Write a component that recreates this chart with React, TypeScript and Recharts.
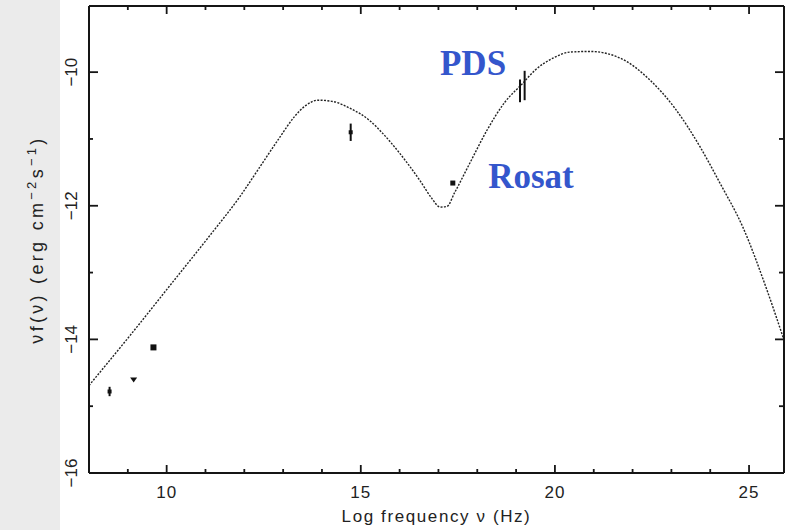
import React from 'react';
import { ComposedChart, Line, Scatter, XAxis, YAxis, ErrorBar, ReferenceDot } from 'recharts';

// Model SED curve: log frequency (Hz) vs log nuF(nu)
const curveLogNu = [8.0, 9.06, 10.09, 11.12, 11.89, 12.40, 12.92, 13.30, 13.56, 13.90, 14.29, 14.72, 15.24, 15.57, 16.01, 16.52, 16.83, 17.04, 17.22, 17.42, 17.81, 18.25, 18.71, 19.15, 19.49, 19.95, 20.39, 20.91, 21.68, 22.45, 23.09, 23.74, 24.25, 24.84, 25.46, 25.90];
const curveLogFlux = [-14.69, -13.94, -13.19, -12.44, -11.86, -11.42, -10.97, -10.66, -10.51, -10.42, -10.44, -10.54, -10.73, -10.92, -11.22, -11.62, -11.89, -12.02, -12.01, -11.80, -11.36, -10.87, -10.45, -10.18, -9.97, -9.79, -9.70, -9.69, -9.79, -10.12, -10.54, -11.12, -11.66, -12.32, -13.26, -14.01];

// Observed points
const radioA = [{ x: 8.53, y: -14.78, err: 0.07 }];
const radioB = [{ x: 9.15, y: -14.6 }];
const radioC = [{ x: 9.66, y: -14.12 }];
const optical = [{ x: 14.74, y: -10.9, err: 0.13 }];
const rosat = [{ x: 17.37, y: -11.66 }];
const pds = [
  { x: 19.1, y: -10.28, err: 0.17 },
  { x: 19.22, y: -10.2, err: 0.22 },
];

const X_TICKS = [9, 10, 11, 12, 13, 14, 15, 16, 17, 18, 19, 20, 21, 22, 23, 24, 25];
const X_MAJOR = [10, 15, 20, 25];
const Y_TICKS = [-16, -15, -14, -13, -12, -11, -10];
const Y_MAJOR = [-16, -14, -12, -10];
const X_DOMAIN = [8, 25.9];
const Y_DOMAIN = [-16, -9.01];

const curve = curveLogNu.map((x, i) => ({ x, y: curveLogFlux[i] }));

const AX = '#151515';
const FONT = "'Liberation Sans', Arial, sans-serif";
const fmt = (v: number) => (v < 0 ? '\u2212' + Math.abs(v) : String(v));

const BottomTick = (p: any) => {
  const v = p.payload.value;
  const major = X_MAJOR.includes(v);
  return (
    <g>
      <line x1={p.x} x2={p.x} y1={p.y} y2={p.y - (major ? 8 : 4)} stroke={AX} strokeWidth={1.8} />
      {major && (
        <text x={p.x} y={p.y + 25} textAnchor="middle" fontFamily={FONT} fontSize={17} letterSpacing={1} fill="#222">
          {v}
        </text>
      )}
    </g>
  );
};
const TopTick = (p: any) => {
  const major = X_MAJOR.includes(p.payload.value);
  return <line x1={p.x} x2={p.x} y1={p.y} y2={p.y + (major ? 8 : 4)} stroke={AX} strokeWidth={1.8} />;
};
const LeftTick = (p: any) => {
  const v = p.payload.value;
  const major = Y_MAJOR.includes(v);
  const tx = p.x - 12;
  return (
    <g>
      <line x1={p.x} x2={p.x + (major ? 9 : 4)} y1={p.y} y2={p.y} stroke={AX} strokeWidth={1.8} />
      {major && (
        <text x={tx} y={p.y} transform={`rotate(-90, ${tx}, ${p.y})`} textAnchor="middle" fontFamily={FONT} fontSize={17} fill="#222">
          {fmt(v)}
        </text>
      )}
    </g>
  );
};
const RightTick = (p: any) => {
  const major = Y_MAJOR.includes(p.payload.value);
  return <line x1={p.x} x2={p.x - (major ? 9 : 5)} y1={p.y} y2={p.y} stroke={AX} strokeWidth={1.8} />;
};

const XTitle = (props: any) => {
  const vb = props.viewBox;
  return (
    <text x={vb.x + vb.width / 2} y={vb.y + 49} textAnchor="middle" fontFamily={FONT} fontSize={17} letterSpacing={1.6} fill="#222">
      Log frequency ν (Hz)
    </text>
  );
};
const YTitle = (props: any) => {
  const vb = props.viewBox;
  const tx = vb.x + 43;
  const ty = vb.y + vb.height / 2;
  return (
    <text x={tx} y={ty} transform={`rotate(-90, ${tx}, ${ty})`} textAnchor="middle" fontFamily={FONT} fontSize={18} letterSpacing={3.3} fill="#222">
      νf(ν) (erg cm
      <tspan dy={-7} fontSize={13}>−2</tspan>
      <tspan dy={7}>s</tspan>
      <tspan dy={-7} fontSize={13}>−1</tspan>
      <tspan dy={7}>)</tspan>
    </text>
  );
};

const SquareShape = (p: any) => <rect x={p.cx - 3} y={p.cy - 3} width={6} height={6} fill="#111" />;
const SmallSquare = (p: any) => <rect x={p.cx - 2.5} y={p.cy - 2.5} width={5} height={5} fill="#111" />;
const TriShape = (p: any) => (
  <path d={`M${p.cx - 3.5},${p.cy - 2} L${p.cx + 3.5},${p.cy - 2} L${p.cx},${p.cy + 3} Z`} fill="#111" />
);
const DotShape = (p: any) => <rect x={p.cx - 2} y={p.cy - 2} width={4} height={4} fill="#111" />;
const NoShape = () => <g />;

const AnnoLabel = (text: string) => (props: any) => {
  const vb = props.viewBox;
  return (
    <text x={vb.x} y={vb.y} fontFamily="'Liberation Serif', 'Times New Roman', serif" fontWeight="bold" fontSize={35} fill="#3456cc">
      {text}
    </text>
  );
};

export default function App() {
  return (
    <div style={{ position: 'absolute', left: 0, top: 0, width: 788, height: 530, background: '#fff' }}>
      <div style={{ position: 'absolute', left: 0, top: 0, width: 60, height: 530, background: '#ebebeb' }} />
      <div style={{ position: 'absolute', left: 0, top: 0 }}>
        <ComposedChart width={788} height={530} margin={{ top: 0, right: 0, bottom: 0, left: 0 }}>
          <XAxis
            xAxisId="b"
            type="number"
            dataKey="x"
            domain={X_DOMAIN}
            ticks={X_TICKS}
            interval={0}
            allowDataOverflow
            height={57}
            tickSize={0}
            tickMargin={0}
            tickLine={false}
            axisLine={{ stroke: AX, strokeWidth: 2 }}
            tick={BottomTick}
            label={{ content: XTitle }}
          />
          <XAxis
            xAxisId="t"
            orientation="top"
            type="number"
            dataKey="x"
            domain={X_DOMAIN}
            ticks={X_TICKS}
            interval={0}
            allowDataOverflow
            height={6}
            tickSize={0}
            tickMargin={0}
            tickLine={false}
            axisLine={{ stroke: AX, strokeWidth: 2 }}
            tick={TopTick}
          />
          <YAxis
            yAxisId="l"
            type="number"
            domain={Y_DOMAIN}
            ticks={Y_TICKS}
            interval={0}
            allowDataOverflow
            width={89}
            tickSize={0}
            tickMargin={0}
            tickLine={false}
            axisLine={{ stroke: AX, strokeWidth: 2 }}
            tick={LeftTick}
            label={{ content: YTitle }}
          />
          <YAxis
            yAxisId="r"
            orientation="right"
            type="number"
            domain={Y_DOMAIN}
            ticks={Y_TICKS}
            interval={0}
            allowDataOverflow
            width={4}
            tickSize={0}
            tickMargin={0}
            tickLine={false}
            axisLine={{ stroke: AX, strokeWidth: 2 }}
            tick={RightTick}
          />
          <Line
            xAxisId="b"
            yAxisId="l"
            data={curve}
            dataKey="y"
            type="monotone"
            dot={false}
            stroke="#222"
            strokeWidth={1.4}
            strokeDasharray="2 1.4"
            isAnimationActive={false}
          />
          <Scatter xAxisId="b" yAxisId="l" data={radioA} dataKey="y" shape={DotShape} isAnimationActive={false}>
            <ErrorBar dataKey="err" direction="y" width={0} stroke="#111" strokeWidth={2} />
          </Scatter>
          <Scatter xAxisId="b" yAxisId="l" data={radioB} dataKey="y" shape={TriShape} isAnimationActive={false} />
          <Scatter xAxisId="b" yAxisId="l" data={radioC} dataKey="y" shape={SquareShape} isAnimationActive={false} />
          <Scatter xAxisId="b" yAxisId="l" data={optical} dataKey="y" shape={DotShape} isAnimationActive={false}>
            <ErrorBar dataKey="err" direction="y" width={0} stroke="#111" strokeWidth={2} />
          </Scatter>
          <Scatter xAxisId="b" yAxisId="l" data={rosat} dataKey="y" shape={SmallSquare} isAnimationActive={false} />
          <Scatter xAxisId="b" yAxisId="l" data={pds} dataKey="y" shape={NoShape} isAnimationActive={false}>
            <ErrorBar dataKey="err" direction="y" width={0} stroke="#111" strokeWidth={2} />
          </Scatter>
          <ReferenceDot xAxisId="b" yAxisId="l" x={17.04} y={-10.045} r={0} fill="none" stroke="none" label={{ content: AnnoLabel('PDS') }} />
          <ReferenceDot xAxisId="b" yAxisId="l" x={18.28} y={-11.74} r={0} fill="none" stroke="none" label={{ content: AnnoLabel('Rosat') }} />
        </ComposedChart>
      </div>
    </div>
  );
}
